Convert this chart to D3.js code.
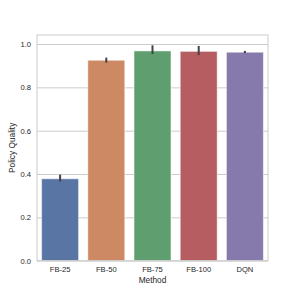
<!DOCTYPE html>
<html>
<head>
<meta charset="utf-8">
<script src="https://cdn.jsdelivr.net/npm/d3@7"></script>
<style>
  html, body { margin: 0; padding: 0; background: #fff; }
  svg text { font-family: "Liberation Sans", Arial, sans-serif; fill: #262626; }
</style>
</head>
<body>
<div id="chart"></div>
<script>
const methods = ["FB-25", "FB-50", "FB-75", "FB-100", "DQN"];
const quality = [0.378, 0.925, 0.968, 0.966, 0.962];
const errLow = [0.366, 0.914, 0.954, 0.949, 0.958];
const errHigh = [0.397, 0.937, 0.994, 0.991, 0.968];
const colors = ["#5975a4", "#cc8963", "#5f9e6e", "#b55d60", "#857aab"];
const yTicks = [0.0, 0.2, 0.4, 0.6, 0.8, 1.0];

const width = 298, height = 298;
const margin = { top: 35, right: 30, bottom: 37.3, left: 37 };
const innerWidth = width - margin.left - margin.right;
const innerHeight = height - margin.top - margin.bottom;

const svg = d3.select("#chart").append("svg")
  .attr("width", width)
  .attr("height", height);

const g = svg.append("g")
  .attr("transform", `translate(${margin.left},${margin.top})`);

const x = d3.scaleBand().domain(methods).range([0, innerWidth]).paddingInner(0.2).paddingOuter(0.1);
const y = d3.scaleLinear().domain([0, 1.0415]).range([innerHeight, 0]);

// grid
g.append("g")
  .call(d3.axisLeft(y).tickValues(yTicks).tickSize(-innerWidth).tickFormat(""))
  .call(a => a.select(".domain").remove())
  .call(a => a.selectAll(".tick line").attr("stroke", "#cccccc").attr("stroke-width", 1));

// bars
const data = methods.map((m, i) => ({ m, v: quality[i], lo: errLow[i], hi: errHigh[i], c: colors[i] }));

g.selectAll(".bar")
  .data(data)
  .enter().append("rect")
  .attr("x", d => x(d.m))
  .attr("y", d => y(d.v))
  .attr("width", x.bandwidth())
  .attr("height", d => innerHeight - y(d.v))
  .attr("fill", d => d.c)
  .attr("stroke", "#ffffff")
  .attr("stroke-opacity", 0.5)
  .attr("stroke-width", 1);

// error bars
g.selectAll(".err")
  .data(data)
  .enter().append("line")
  .attr("x1", d => x(d.m) + x.bandwidth() / 2)
  .attr("x2", d => x(d.m) + x.bandwidth() / 2)
  .attr("y1", d => y(d.lo))
  .attr("y2", d => y(d.hi))
  .attr("stroke", "#424242")
  .attr("stroke-width", 2);

// frame
g.append("rect")
  .attr("width", innerWidth)
  .attr("height", innerHeight)
  .attr("fill", "none")
  .attr("stroke", "#cccccc")
  .attr("stroke-width", 1);

// axes
g.append("g")
  .attr("transform", `translate(0,${innerHeight})`)
  .call(d3.axisBottom(x).tickSize(0).tickPadding(6))
  .call(a => a.select(".domain").remove())
  .call(a => a.selectAll(".tick text").attr("font-size", "7.6px").attr("dy", "0.71em"));

g.append("g")
  .call(d3.axisLeft(y).tickValues(yTicks).tickSize(0).tickPadding(6).tickFormat(d3.format(".1f")))
  .call(a => a.select(".domain").remove())
  .call(a => a.selectAll(".tick text").attr("font-size", "7.6px"));

// labels
g.append("text")
  .attr("x", innerWidth / 2)
  .attr("y", innerHeight + 22)
  .attr("text-anchor", "middle")
  .attr("font-size", "8.3px")
  .text("Method");

g.append("text")
  .attr("transform", "rotate(-90)")
  .attr("x", -innerHeight / 2)
  .attr("y", -22)
  .attr("text-anchor", "middle")
  .attr("font-size", "8.3px")
  .text("Policy Quality");
</script>
</body>
</html>
